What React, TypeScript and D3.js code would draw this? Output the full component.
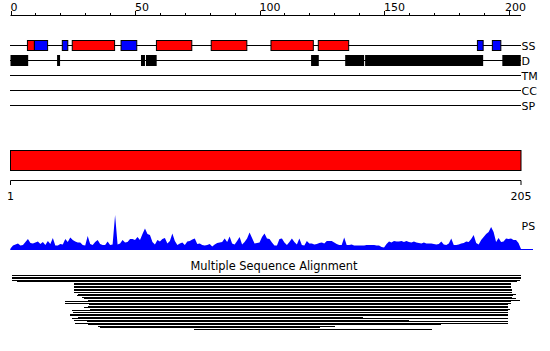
import React from "react";
import * as d3 from "d3";

const SEQ_LENGTH = 205;
const TOP_TICKS = [0, 50, 100, 150, 200];
const MINOR_TICKS = [10, 20, 30, 40, 60, 70, 80, 90, 110, 120, 130, 140, 160, 170, 180, 190];
const TRACKS = ["SS", "D", "TM", "CC", "SP"];

const HELICES: [number, number][] = [
  [6.8, 9.6], [24.8, 41.8], [58.6, 72.8], [80.6, 94.9], [104.6, 121.6], [123.6, 135.8],
];
const STRANDS: [number, number][] = [
  [9.6, 14.9], [20.8, 23.0], [44.4, 50.7], [187.5, 189.8], [193.5, 196.9],
];
const DISORDER: [number, number][] = [
  [0, 7.1], [18.7, 19.9], [52.4, 54.0], [54.4, 58.7], [120.7, 123.8],
  [134.4, 142.0], [142.4, 189.8], [197.5, 204.9],
];

const DOMAIN_LABELS = ["1", "205"];

const PS_VALUES = [
  1.5, 4.5, 5.5, 6.5, 4.5, 5, 8, 11, 7, 6.5, 7.5, 8.5, 6, 8, 5, 9, 6, 12, 4.5, 4.5,
  6, 5.5, 11, 8, 12.5, 10, 8.5, 7.5, 7.5, 5, 4.5, 14, 6, 5, 8, 10, 6, 5, 5, 8.5,
  5, 5.5, 35, 5.5, 6.5, 10, 7.5, 8, 11, 11, 10, 13, 10, 16, 21.5, 16, 15, 8, 5.5, 10,
  8.5, 11, 12, 6.5, 9, 16.5, 9, 5, 6.5, 7.5, 5, 8.5, 9, 10.5, 11.5, 6, 6.5, 5, 4.5, 5,
  6, 3.5, 5.5, 7, 7.5, 8, 11.5, 8, 13.5, 6.5, 5.5, 9, 13, 5.5, 8, 11.5, 17.5, 12, 6.5, 7,
  7.5, 13, 16.5, 11.5, 11, 7.5, 4.5, 4.5, 11, 11.5, 7.5, 5, 8, 11.5, 8, 5.5, 11.5, 5, 4.5, 9,
  6.5, 6.5, 5.5, 6, 7, 7.5, 6.5, 9, 9, 9, 7.5, 6, 5, 5, 12.5, 5, 5, 5.5, 4.5, 4.5,
  4.5, 4.5, 4.5, 5, 5, 5, 5, 4.5, 4.5, 3, 2.5, 6, 8.5, 7.5, 9, 8.5, 8.5, 9, 8, 9,
  8, 7.5, 8.5, 7.5, 7, 6.5, 7.5, 6.5, 6.5, 6.5, 6, 5.5, 6, 8.5, 5.5, 5, 6.5, 11.5, 5, 5,
  5.5, 6.5, 7, 8.5, 8, 11, 15, 7, 5.5, 10, 13, 16, 18, 23, 18, 8, 12, 8, 8.5, 11.5,
  11, 11.5, 10, 10, 7, 1,
];

const MSA_STARTS = [
  0.6, 0.6, 0.6, 0.6, 2.6, 25.5, 25.5, 25.5, 25.5, 25.5, 25.5, 25.5, 27.1, 26.8, 28.7, 29.5,
  31.1, 21.8, 21.8, 31.5, 31.1, 29.5, 31.8, 24.7, 25.1, 23.8, 23.8, 27.1, 24.8, 25.4, 30.7,
  25.8, 31.1, 35.1, 35.8, 73.7,
];
const MSA_ENDS = [
  204.9, 204.9, 204.9, 204.6, 203.4, 200.9, 200.9, 200.9, 200.9, 201.4, 201.4, 201.2, 203, 201.8,
  201.4, 203, 204.6, 200.9, 200.9, 199.8, 199.8, 199.8, 200.6, 199.8, 199.8, 199.8, 199.8, 141.6,
  199.8, 159.9, 199.8, 199.8, 172.8, 130.3, 124.3, 169.3,
];

const FONT = "'DejaVu Sans', sans-serif";

export default function App() {
  const x = d3.scaleLinear().domain([0, SEQ_LENGTH]).range([10.5, 521]);
  const trackY = d3.scalePoint<string>().domain(TRACKS).range([45, 105]);
  const psY = d3.scaleLinear().domain([0, 35]).range([250, 215]);
  const msaY = d3.scaleLinear().domain([0, MSA_STARTS.length - 1]).range([275.5, 329.5]);
  const psX = d3.scaleLinear().domain([0, PS_VALUES.length - 1]).range([x(0), x(SEQ_LENGTH)]);

  const area = d3
    .area<number>()
    .x((_, i) => psX(i))
    .y0(psY(0))
    .y1((d) => psY(d));

  const ssY = trackY("SS")!;
  const dY = trackY("D")!;

  return (
    <svg
      width={550}
      height={351}
      style={{ position: "absolute", left: 0, top: 0, background: "#fff" }}
      fontFamily={FONT}
    >
      {/* top axis */}
      <line x1={x(0)} x2={x(SEQ_LENGTH)} y1={15.5} y2={15.5} stroke="#000" />
      {MINOR_TICKS.map((t) => (
        <line key={"m" + t} x1={Math.round(x(t)) + 0.5} x2={Math.round(x(t)) + 0.5} y1={13} y2={15.5} stroke="#000" />
      ))}
      {TOP_TICKS.map((t) => (
        <g key={"t" + t}>
          <line x1={Math.round(x(t)) + 0.5} x2={Math.round(x(t)) + 0.5} y1={11} y2={15.5} stroke="#000" />
          <text x={Math.min(x(t), 505)} y={10.5} fontSize={11} fill="#000">
            {t}
          </text>
        </g>
      ))}

      {/* tracks */}
      {TRACKS.map((t) => (
        <g key={t}>
          <line x1={x(0) - 0.5} x2={x(SEQ_LENGTH)} y1={trackY(t)! + 0.5} y2={trackY(t)! + 0.5} stroke="#000" />
          <text x={521.5} y={trackY(t)! + 4.5} fontSize={11} fill="#000">
            {t}
          </text>
        </g>
      ))}
      {HELICES.map(([a, b], i) => (
        <rect key={"h" + i} x={x(a)} y={ssY - 4.5} width={x(b) - x(a)} height={10} fill="#ff0000" stroke="#000" strokeWidth={1} />
      ))}
      {STRANDS.map(([a, b], i) => (
        <rect key={"s" + i} x={x(a)} y={ssY - 4.5} width={x(b) - x(a)} height={10} fill="#0000ff" stroke="#000" strokeWidth={1} />
      ))}
      {DISORDER.map(([a, b], i) => (
        <rect key={"d" + i} x={Math.max(x(a), 10)} y={dY - 5} width={x(b) - Math.max(x(a), 10)} height={11} fill="#000" />
      ))}

      {/* domain bar */}
      <rect x={x(0)} y={150.5} width={x(SEQ_LENGTH) - x(0)} height={20} fill="#ff0000" stroke="#000" />
      <line x1={x(0)} x2={x(SEQ_LENGTH)} y1={180.5} y2={180.5} stroke="#000" />
      <line x1={x(0)} x2={x(0)} y1={180.5} y2={185} stroke="#000" />
      <line x1={x(SEQ_LENGTH)} x2={x(SEQ_LENGTH)} y1={180.5} y2={185} stroke="#000" />
      <text x={x(0)} y={200} fontSize={11} textAnchor="middle" fill="#000">
        {DOMAIN_LABELS[0]}
      </text>
      <text x={x(SEQ_LENGTH)} y={200} fontSize={11} textAnchor="middle" fill="#000">
        {DOMAIN_LABELS[1]}
      </text>

      {/* PS profile */}
      <path d={area(PS_VALUES) || ""} fill="#0000ff" />
      <line x1={x(0)} x2={533} y1={249.5} y2={249.5} stroke="#0000ff" strokeWidth={1.2} />
      <text x={521.5} y={230} fontSize={11} fill="#000">
        PS
      </text>

      {/* MSA */}
      <text x={274} y={270} fontSize={11.4} textAnchor="middle" fill="#000">
        Multiple Sequence Alignment
      </text>
      {MSA_STARTS.map((s, i) => (
        <line
          key={"a" + i}
          x1={x(s)}
          x2={x(MSA_ENDS[i])}
          y1={msaY(i)}
          y2={msaY(i)}
          stroke="#000"
          strokeWidth={1}
          shapeRendering="crispEdges"
        />
      ))}
    </svg>
  );
}
